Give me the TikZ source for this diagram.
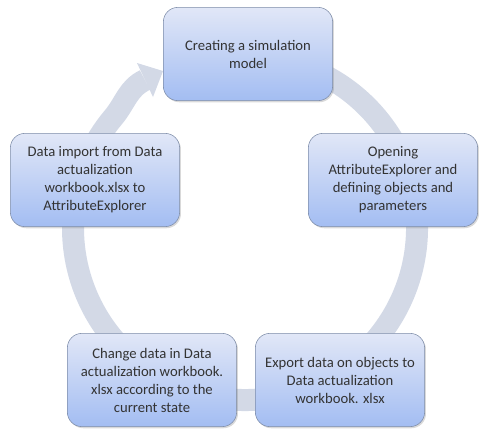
\documentclass[tikz,border=0pt]{standalone}
\usepackage{fontspec}
\setmainfont{Carlito}
\usepackage{xcolor}
\usepackage{tikz}
\usetikzlibrary{positioning}
\usetikzlibrary{shadows}
\definecolor{boxtop}{HTML}{E1E7F7}
\definecolor{boxbot}{HTML}{A3BDF2}
\definecolor{boxline}{HTML}{7D8CA8}
\definecolor{ring}{HTML}{D3D9E6}
\definecolor{boxtext}{HTML}{333333}

\begin{document}
\begin{tikzpicture}[x=0.75pt, y=0.75pt,
    box/.style={rectangle, rounded corners=11pt, draw=boxline, top color=boxtop, bottom color=boxbot, minimum width=127pt, minimum height=70pt, align=center, text=boxtext, font=\fontsize{11}{13.5}\selectfont, drop shadow={opacity=0.3, shadow xshift=1pt, shadow yshift=-1.2pt}}
]
\useasboundingbox (0,0) rectangle (480,430);

% ring with the arrow head at the top left
\coordinate (hub) at (245,202);
\coordinate (tipbase) at (145,350);
\draw[ring, line width=16.5pt] (hub) ++(112:172) arc[start angle=112, end angle=-220, radius=172] to[out=50, in=206] (tipbase);
\fill[ring] (137,367) -- (163,359) -- (153,333) -- cycle;

\node[box] (1_2) at (248,376) {Creating a simulation\\model};
\node[box] (2_3) at (393,250) {Opening\\AttributeExplorer and\\defining objects and\\parameters};
\node[box] (3_3) at (340,50) {Export data on objects to\\Data actualization\\workbook. xlsx};
\node[box] (3_1) at (152,50) {Change data in Data\\actualization workbook.\\xlsx according to the\\current state};
\node[box] (2_1) at (95,250) {Data import from Data\\actualization\\workbook.xlsx to\\AttributeExplorer};

\end{tikzpicture}
\end{document}
